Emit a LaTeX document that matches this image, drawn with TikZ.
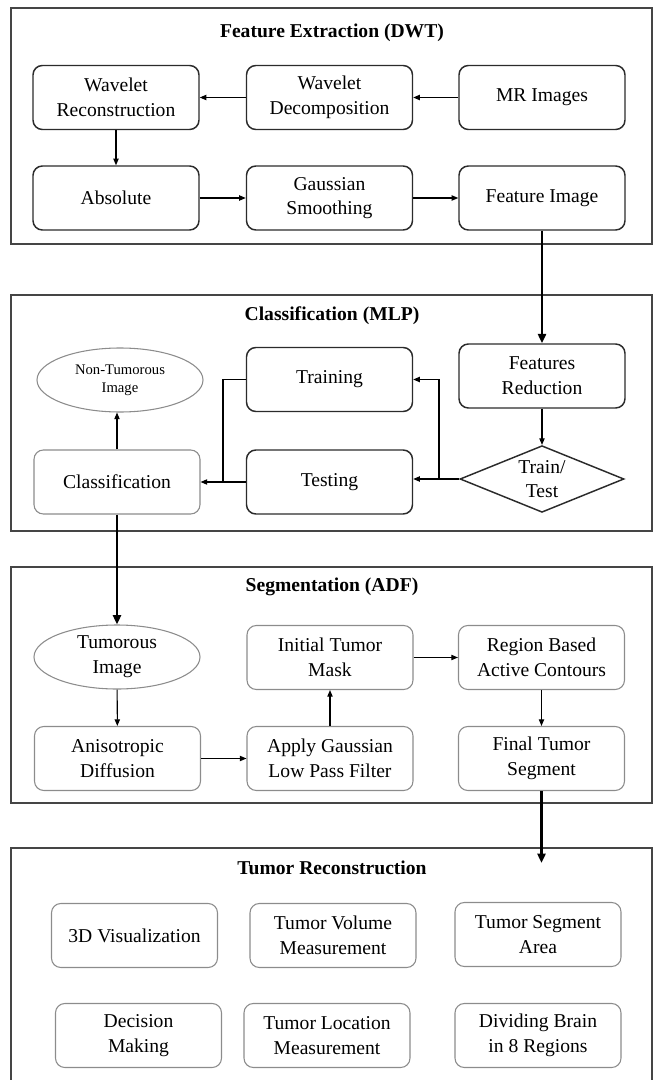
\documentclass[tikz,border=0pt]{standalone}
\usepackage{fontspec}
\setmainfont{Liberation Serif}
\definecolor{fcInk}{HTML}{2B2B2B}
\definecolor{fcGray}{HTML}{8C8C8C}
\definecolor{fcFrame}{HTML}{454545}
\usetikzlibrary{arrows.meta,shapes.geometric}

\begin{document}
\begin{tikzpicture}[x=0.75pt,y=-0.75pt,
  box/.style={draw=fcInk, line width=1.1pt, rounded corners=7pt, align=center,
    minimum width=124.5pt, minimum height=48pt, inner sep=1pt,
    font=\fontsize{14.7}{18.5}\selectfont},
  boxg/.style={box, draw=fcGray, line width=0.8pt},
  oval/.style={ellipse, draw=fcGray, line width=0.8pt, align=center,
    minimum width=124.5pt, minimum height=48pt, inner sep=0pt,
    font=\fontsize{14.7}{18.5}\selectfont},
  decide/.style={diamond, draw=fcInk, line width=1.1pt, align=center, aspect=2.5,
    minimum width=123pt, minimum height=50pt, inner sep=0pt,
    font=\fontsize{14.7}{17.5}\selectfont},
  frame/.style={draw=fcFrame, line width=1.5pt},
  title/.style={font=\fontsize{14.7}{17}\selectfont\bfseries},
  flow/.style={draw=black, line width=0.8pt, -{Triangle[length=5pt,width=4pt]}},
  wire/.style={draw=black, line width=0.8pt},
  bigflow/.style={draw=black, line width=2.2pt, -{Triangle[length=7pt,width=6pt]}}]
  \useasboundingbox (0,0) rectangle (653,1080);

  % Frames
  \draw[frame] (11,8) rectangle (652,244);
  \draw[frame] (11,295) rectangle (652,531);
  \draw[frame] (11,567) rectangle (652,803);
  \draw[frame] (11,1080) -- (11,848) -- (652,848) -- (652,1080);

  % Frame titles
  \node[title] (t1) at (332,33) {Feature Extraction (DWT)};
  \node[title] (t2) at (332,316) {Classification (MLP)};
  \node[title] (t3) at (332,587) {Segmentation (ADF)};
  \node[title] (t4) at (332,868) {Tumor Reconstruction};

  % Feature extraction
  \node[box] (wrec) at (116,97.5) {Wavelet\\Reconstruction};
  \node[box] (wdec) at (329.5,97.5) {Wavelet\\Decomposition};
  \node[box] (mri) at (542,97.5) {MR Images};
  \node[box] (abs) at (116,198) {Absolute};
  \node[box] (gsm) at (329.5,198) {Gaussian\\Smoothing};
  \node[box] (feat) at (542,198) {Feature Image};

  \draw[flow] (mri) -- (wdec);
  \draw[flow] (wdec) -- (wrec);
  \draw[flow] (wrec) -- (abs);
  \draw[flow] (abs) -- (gsm);
  \draw[flow] (gsm) -- (feat);

  % Classification
  \node[box] (fred) at (542,376) {Features\\Reduction};
  \node[box] (train) at (329.5,379.5) {Training};
  \node[oval, font=\fontsize{11}{13.5}\selectfont] (nontum) at (120,380) {Non-Tumorous\\Image};
  \node[decide] (tt) at (542,479) {Train/\\Test};
  \node[box] (test) at (329.5,482) {Testing};
  \node[boxg] (class) at (117,482) {Classification};

  \coordinate (split) at (439,479);
  \coordinate (merge) at (223,482);
  \draw[bigflow] (feat) -- (fred);
  \draw[flow] (fred) -- (tt);
  \draw[flow] (tt.west) -- (tt.west -| test.east);
  \draw[flow] (split) |- (train.east);
  \draw[wire] (train.west) -| (merge);
  \draw[flow] (test) -- (class);
  \draw[flow] (class) -- (class |- nontum.south);

  % Segmentation
  \node[oval] (tum) at (117,657) {Tumorous\\Image};
  \node[boxg] (mask) at (330,657.5) {Initial Tumor\\Mask};
  \node[boxg] (rbac) at (541.5,657.5) {Region Based\\Active Contours};
  \node[boxg] (adf) at (117.5,758.5) {Anisotropic\\Diffusion};
  \node[boxg] (lpf) at (330,758.5) {Apply Gaussian\\Low Pass Filter};
  \node[boxg] (fseg) at (541.5,758.5) {Final Tumor\\Segment};

  \draw[bigflow] (class) -- (class |- tum.north);
  \draw[flow] (tum) -- (adf);
  \draw[flow] (adf) -- (lpf);
  \draw[flow] (lpf) -- (mask);
  \draw[flow] (mask) -- (rbac);
  \draw[flow] (rbac) -- (fseg);

  % Tumor reconstruction
  \coordinate (recon) at (541.5,863);
  \draw[bigflow] (fseg) -- (recon);

  \node[boxg] (vis) at (134.5,935.5) {3D Visualization};
  \node[boxg] (vol) at (333,935.5) {Tumor Volume\\Measurement};
  \node[boxg] (area) at (538,934.5) {Tumor Segment\\Area};
  \node[boxg] (dec) at (138.5,1035.5) {Decision\\Making};
  \node[boxg] (loc) at (327,1035.5) {Tumor Location\\Measurement};
  \node[boxg] (brain) at (538,1035.5) {Dividing Brain\\in 8 Regions};

\end{tikzpicture}
\end{document}
